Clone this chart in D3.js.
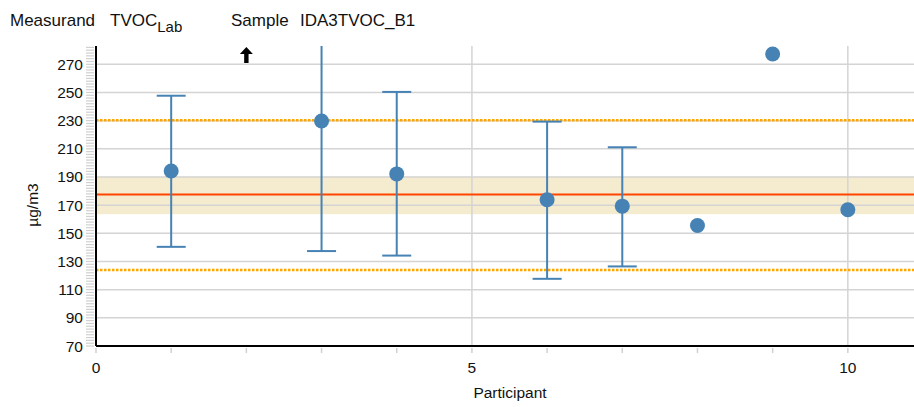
<!DOCTYPE html>
<html>
<head>
<meta charset="utf-8">
<script src="https://cdn.jsdelivr.net/npm/d3@7.9.0/dist/d3.min.js"></script>
<style>
  body { margin: 0; background: #fff; }
  svg { display: block; font-family: "Liberation Sans", Arial, sans-serif; }
</style>
</head>
<body>
<div id="chart"></div>
<script>
// participant results (value with expanded uncertainty range)
const participants = [1, 3, 4, 6, 7, 8, 9, 10];
const values = [194.3, 229.8, 192.2, 173.8, 169.3, 155.6, 277.3, 166.7];
const lowerBounds = [140.4, 137.4, 134.2, 117.7, 126.5, null, null, null];
const upperBounds = [247.7, 300, 250.4, 229.3, 211.1, null, null, null];
// participant result outside the displayed range
const offScaleHigh = [2];

const assignedValue = 177.5;
const assignedBand = [163.6, 190.3];
const limits = [124.0, 230.3];

const yTicks = [70, 90, 110, 130, 150, 170, 190, 210, 230, 250, 270];
const xTicks = [0, 5, 10];

const W = 914, H = 407;
const mLeft = 96, mRight = 914, mTop = 46, mBottom = 346;

const svg = d3.select("#chart").append("svg")
  .attr("width", W)
  .attr("height", H);

const x = d3.scaleLinear().domain([0, 10.88]).range([mLeft, mRight]);
const y = d3.scaleLinear().domain([70, 283]).range([mBottom, mTop]);

svg.append("clipPath").attr("id", "clip")
  .append("rect")
  .attr("x", mLeft).attr("y", mTop)
  .attr("width", mRight - mLeft).attr("height", mBottom - mTop);

const plot = svg.append("g").attr("clip-path", "url(#clip)");

// band around the assigned value
plot.append("rect")
  .attr("x", mLeft)
  .attr("width", mRight - mLeft)
  .attr("y", y(assignedBand[1]))
  .attr("height", y(assignedBand[0]) - y(assignedBand[1]))
  .attr("fill", "#f5ebcf");

// grid
plot.selectAll(".hgrid")
  .data(yTicks.slice(1))
  .enter().append("line")
  .attr("x1", mLeft).attr("x2", mRight)
  .attr("y1", d => y(d)).attr("y2", d => y(d))
  .attr("stroke", "#d4d4d4")
  .attr("stroke-width", 1.5);

plot.selectAll(".vgrid")
  .data(xTicks.slice(1))
  .enter().append("line")
  .attr("x1", d => x(d)).attr("x2", d => x(d))
  .attr("y1", mTop).attr("y2", mBottom)
  .attr("stroke", "#d4d4d4")
  .attr("stroke-width", 1.5);

// assigned value and limits
plot.append("line")
  .attr("x1", mLeft).attr("x2", mRight)
  .attr("y1", y(assignedValue)).attr("y2", y(assignedValue))
  .attr("stroke", "#ff4500")
  .attr("stroke-width", 2);

plot.selectAll(".limit")
  .data(limits)
  .enter().append("line")
  .attr("x1", mLeft).attr("x2", mRight)
  .attr("y1", d => y(d)).attr("y2", d => y(d))
  .attr("stroke", "#ffa500")
  .attr("stroke-width", 2.5)
  .attr("stroke-dasharray", "2.5,1.5");

// error bars
const rows = participants.map((p, i) => ({
  p, v: values[i], lo: lowerBounds[i], hi: upperBounds[i]
}));
const withErr = rows.filter(d => d.lo !== null);
const blue = "#4682b4";

plot.selectAll(".err")
  .data(withErr)
  .enter().append("line")
  .attr("x1", d => x(d.p)).attr("x2", d => x(d.p))
  .attr("y1", d => y(d.lo)).attr("y2", d => y(d.hi))
  .attr("stroke", blue)
  .attr("stroke-width", 2);

["lo", "hi"].forEach(k => {
  plot.selectAll(".cap-" + k)
    .data(withErr)
    .enter().append("line")
    .attr("x1", d => x(d.p) - 14.5).attr("x2", d => x(d.p) + 14.5)
    .attr("y1", d => y(d[k])).attr("y2", d => y(d[k]))
    .attr("stroke", blue)
    .attr("stroke-width", 2);
});

plot.selectAll(".dot")
  .data(rows)
  .enter().append("circle")
  .attr("cx", d => x(d.p))
  .attr("cy", d => y(d.v))
  .attr("r", 7.5)
  .attr("fill", blue);

// arrows for results above the range
svg.selectAll(".arrow")
  .data(offScaleHigh)
  .enter().append("path")
  .attr("transform", d => `translate(${x(d)},${mTop + 1})`)
  .attr("d", "M0,0 L6.5,7 L2.2,7 L2.2,16 L-2.2,16 L-2.2,7 L-6.5,7 Z")
  .attr("fill", "#000");

// axes
const yMinor = d3.range(70, 283, 2);
svg.append("g")
  .selectAll("line")
  .data(yMinor)
  .enter().append("line")
  .attr("x1", mLeft - 10).attr("x2", mLeft - 2)
  .attr("y1", d => y(d)).attr("y2", d => y(d))
  .attr("stroke", "#d0d0d0")
  .attr("stroke-width", 1.2);

svg.append("g")
  .selectAll("line")
  .data(d3.range(0, 11))
  .enter().append("line")
  .attr("x1", d => x(d)).attr("x2", d => x(d))
  .attr("y1", mBottom + 2).attr("y2", mBottom + 7)
  .attr("stroke", "#d0d0d0")
  .attr("stroke-width", 1.5);

svg.append("line")
  .attr("x1", mLeft).attr("x2", mLeft)
  .attr("y1", mTop).attr("y2", mBottom)
  .attr("stroke", "#000").attr("stroke-width", 2);
svg.append("line")
  .attr("x1", mLeft).attr("x2", mRight)
  .attr("y1", mBottom).attr("y2", mBottom)
  .attr("stroke", "#000").attr("stroke-width", 2);

svg.selectAll(".ylab")
  .data(yTicks)
  .enter().append("text")
  .attr("x", mLeft - 13)
  .attr("y", d => y(d) + 5.5)
  .attr("text-anchor", "end")
  .attr("font-size", 15.5)
  .attr("fill", "#111")
  .text(d => d);

svg.selectAll(".xlab")
  .data(xTicks)
  .enter().append("text")
  .attr("x", d => x(d))
  .attr("y", mBottom + 27)
  .attr("text-anchor", "middle")
  .attr("font-size", 15.5)
  .attr("fill", "#111")
  .text(d => d);

svg.append("text")
  .attr("x", (mLeft + mRight) / 2 + 5)
  .attr("y", 398)
  .attr("text-anchor", "middle")
  .attr("font-size", 15.5)
  .attr("fill", "#111")
  .text("Participant");

svg.append("text")
  .attr("transform", `translate(38,${(mTop + mBottom) / 2 + 9}) rotate(-90)`)
  .attr("text-anchor", "middle")
  .attr("font-size", 15.5)
  .attr("fill", "#111")
  .text("µg/m3");

// title
const titleFont = 17;
const titleY = 26;
svg.append("text")
  .attr("x", 10).attr("y", titleY)
  .attr("font-size", titleFont).attr("fill", "#111")
  .text("Measurand");
const tv = svg.append("text")
  .attr("x", 110).attr("y", titleY)
  .attr("font-size", titleFont).attr("fill", "#111");
tv.append("tspan").text("TVOC");
tv.append("tspan").attr("dy", 6).attr("font-size", 15).text("Lab");
svg.append("text")
  .attr("x", 231).attr("y", titleY)
  .attr("font-size", titleFont).attr("fill", "#111")
  .text("Sample");
svg.append("text")
  .attr("x", 300).attr("y", titleY)
  .attr("font-size", titleFont).attr("fill", "#111")
  .text("IDA3TVOC_B1");
</script>
</body>
</html>
